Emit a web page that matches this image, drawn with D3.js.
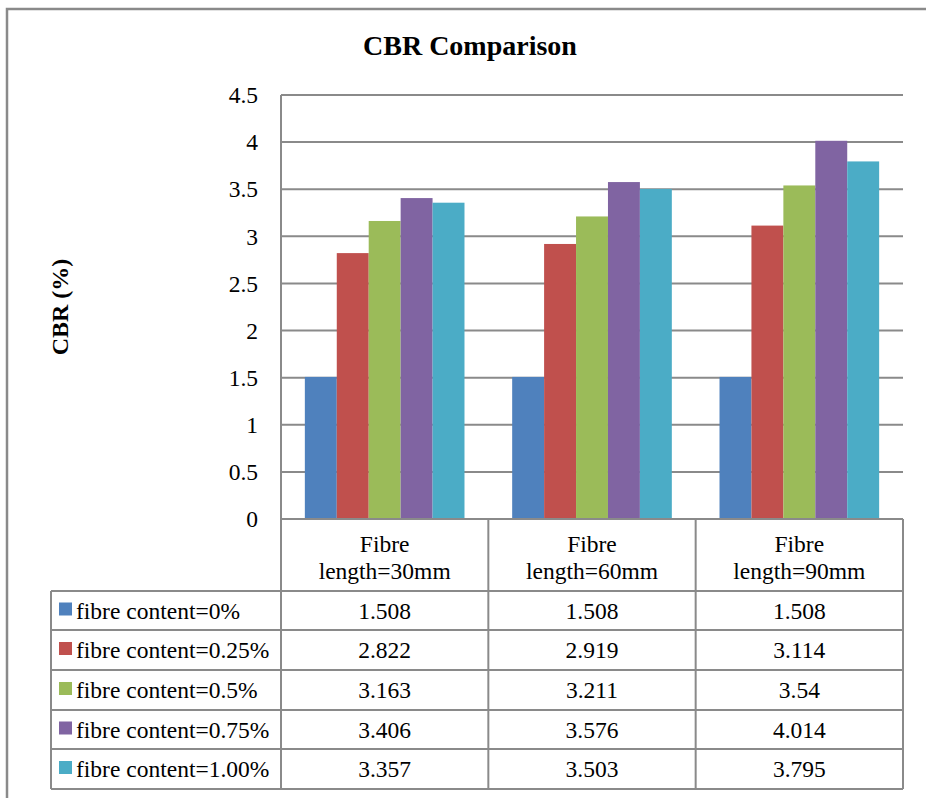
<!DOCTYPE html>
<html>
<head>
<meta charset="utf-8">
<script src="https://cdn.jsdelivr.net/npm/d3@7"></script>
<style>
  html, body { margin: 0; padding: 0; background: #fff; }
  svg { display: block; }
  text { font-family: "Liberation Serif", "Times New Roman", serif; fill: #000; }
</style>
</head>
<body>
<svg id="chart" width="926" height="798"></svg>
<script>
// CBR values per fibre length (columns) and fibre content (series)
const categories = ["Fibre length=30mm", "Fibre length=60mm", "Fibre length=90mm"];
const categoryLines = [["Fibre", "length=30mm"], ["Fibre", "length=60mm"], ["Fibre", "length=90mm"]];
const seriesNames = ["fibre content=0%", "fibre content=0.25%", "fibre content=0.5%", "fibre content=0.75%", "fibre content=1.00%"];
const seriesColors = ["#4F81BD", "#C0504D", "#9BBB59", "#8064A2", "#4BACC6"];
const content0 = [1.508, 1.508, 1.508];
const content025 = [2.822, 2.919, 3.114];
const content05 = [3.163, 3.211, 3.54];
const content075 = [3.406, 3.576, 4.014];
const content100 = [3.357, 3.503, 3.795];
const seriesValues = [content0, content025, content05, content075, content100];
const valueLabels = [
  ["1.508", "1.508", "1.508"],
  ["2.822", "2.919", "3.114"],
  ["3.163", "3.211", "3.54"],
  ["3.406", "3.576", "4.014"],
  ["3.357", "3.503", "3.795"]
];
const yTicks = [0, 0.5, 1, 1.5, 2, 2.5, 3, 3.5, 4, 4.5];
const yTickLabels = ["0", "0.5", "1", "1.5", "2", "2.5", "3", "3.5", "4", "4.5"];
const title = "CBR Comparison";
const yTitle = "CBR (%)";

const svg = d3.select("#chart");
const gridColor = "#8a8a8a";
const fs = 23.5;

// outer frame
svg.append("rect")
  .attr("x", 7).attr("y", 9).attr("width", 940).attr("height", 810)
  .attr("fill", "#fff").attr("stroke", gridColor).attr("stroke-width", 2.5);

const plot = { left: 281, right: 903, top: 95, bottom: 519 };

const x = d3.scaleBand().domain(categories).range([plot.left, plot.right]);
// bars fill the middle ~77% of each category column
const xi = d3.scaleBand().domain(d3.range(seriesNames.length))
  .range([x.bandwidth() * 0.115, x.bandwidth() * 0.885]);
const y = d3.scaleLinear().domain([0, 4.5]).range([plot.bottom, plot.top]);

// title
svg.append("text")
  .attr("x", 470).attr("y", 55)
  .attr("text-anchor", "middle")
  .attr("font-size", 28).attr("font-weight", "bold")
  .text(title);

// y axis title
svg.append("text")
  .attr("transform", `translate(68,307) rotate(-90)`)
  .attr("text-anchor", "middle")
  .attr("font-size", 24).attr("font-weight", "bold")
  .text(yTitle);

// gridlines
svg.append("g").selectAll("line")
  .data(yTicks.filter(d => d > 0))
  .join("line")
  .attr("x1", plot.left).attr("x2", plot.right)
  .attr("y1", d => y(d)).attr("y2", d => y(d))
  .attr("stroke", gridColor).attr("stroke-width", 2);

// y axis tick labels
const yAxis = d3.axisLeft(y).tickValues(yTicks)
  .tickFormat((d, i) => yTickLabels[i]).tickSize(0).tickPadding(23);
const yg = svg.append("g").attr("transform", `translate(${plot.left},0)`).call(yAxis);
yg.select(".domain").remove();
yg.selectAll("text").attr("font-size", fs)
  .style("font-family", '"Liberation Serif", "Times New Roman", serif')
  .attr("dy", "0.33em");

// bars
const groups = svg.append("g").selectAll("g")
  .data(categories)
  .join("g")
  .attr("transform", d => `translate(${x(d)},0)`);
groups.selectAll("rect")
  .data((c, ci) => seriesValues.map((vals, si) => ({ si, v: vals[ci] })))
  .join("rect")
  .attr("x", d => xi(d.si))
  .attr("width", xi.bandwidth())
  .attr("y", d => y(d.v))
  .attr("height", d => y(0) - y(d.v))
  .attr("fill", d => seriesColors[d.si]);

// plot area left edge
svg.append("line")
  .attr("x1", plot.left).attr("x2", plot.left)
  .attr("y1", plot.top).attr("y2", plot.bottom)
  .attr("stroke", gridColor).attr("stroke-width", 2);

// data table under the plot
const headerBottom = 591;
const rowBottoms = [630, 670, 710, 749, 789];
const rowTops = [headerBottom].concat(rowBottoms.slice(0, -1));
const legendLeft = 51;
const table = svg.append("g").attr("stroke", gridColor).attr("stroke-width", 2);

table.append("line").attr("x1", plot.left).attr("x2", plot.right).attr("y1", plot.bottom).attr("y2", plot.bottom);
table.selectAll(".hl").data([headerBottom].concat(rowBottoms)).join("line")
  .attr("x1", legendLeft).attr("x2", plot.right)
  .attr("y1", d => d).attr("y2", d => d);
const colEdges = categories.map(c => x(c)).concat([plot.right]);
table.selectAll(".vl").data(colEdges).join("line")
  .attr("x1", d => d).attr("x2", d => d)
  .attr("y1", plot.bottom).attr("y2", rowBottoms[rowBottoms.length - 1]);
table.append("line").attr("x1", legendLeft).attr("x2", legendLeft)
  .attr("y1", headerBottom).attr("y2", rowBottoms[rowBottoms.length - 1]);

// header labels
categories.forEach((c, ci) => {
  const cx = x(c) + x.bandwidth() / 2;
  const t = svg.append("text").attr("text-anchor", "middle").attr("font-size", fs);
  t.append("tspan").attr("x", cx).attr("y", 552).text(categoryLines[ci][0]);
  t.append("tspan").attr("x", cx).attr("y", 579).text(categoryLines[ci][1]);
});

// legend rows and values
seriesNames.forEach((name, si) => {
  const mid = (rowTops[si] + rowBottoms[si]) / 2;
  svg.append("rect")
    .attr("x", 59).attr("y", mid - 8).attr("width", 13).attr("height", 13)
    .attr("fill", seriesColors[si]);
  svg.append("text")
    .attr("x", 76).attr("y", mid + 8)
    .attr("font-size", fs).text(name);
  categories.forEach((c, ci) => {
    svg.append("text")
      .attr("x", x(c) + x.bandwidth() / 2).attr("y", mid + 8)
      .attr("text-anchor", "middle").attr("font-size", fs)
      .text(valueLabels[si][ci]);
  });
});
</script>
</body>
</html>
